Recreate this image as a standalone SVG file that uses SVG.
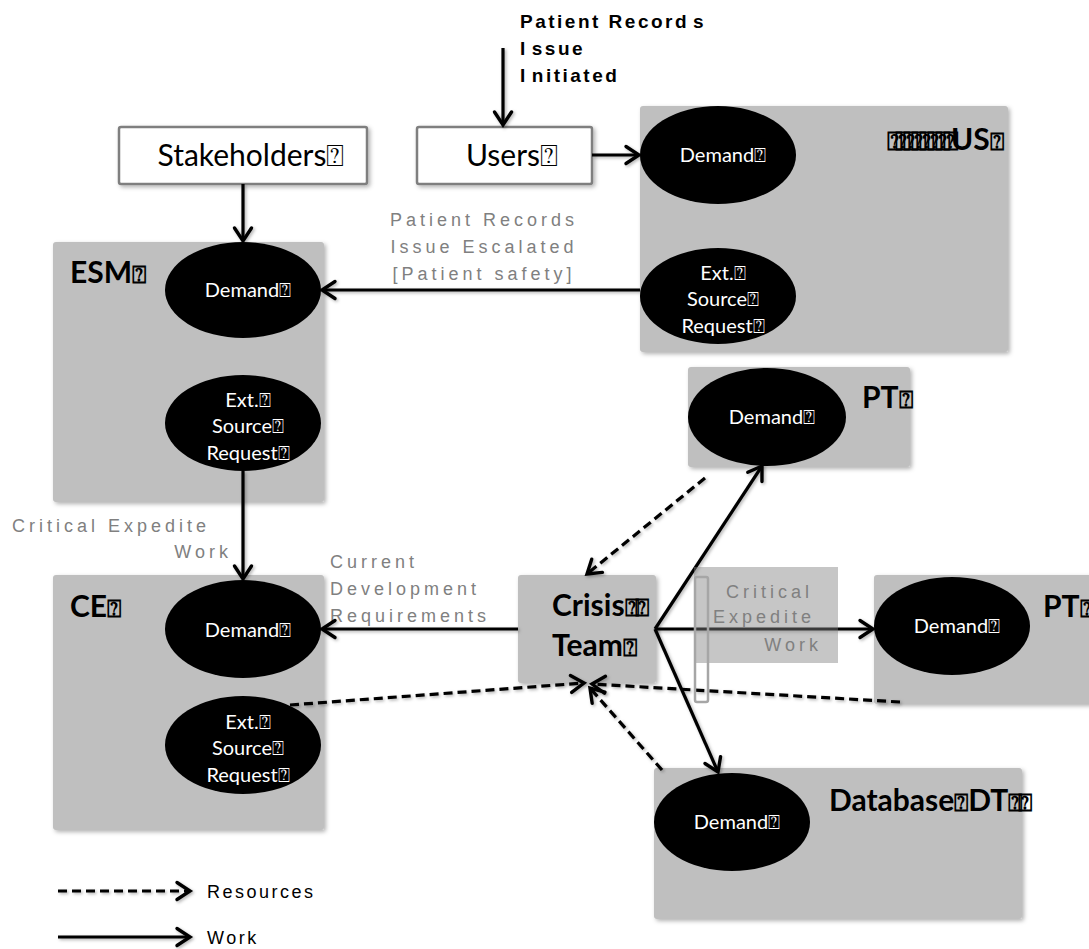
<svg xmlns="http://www.w3.org/2000/svg" width="1089" height="949" viewBox="0 0 1089 949">
  <defs>
    <style>
      .area { fill: #bfbfbf; filter: url(#shadow); }
      .plain { fill: #ffffff; stroke: #7f7f7f; stroke-width: 2.5; filter: url(#shadow); }
      .oval { fill: #000000; }
      .otext { font-family: Lato, "DejaVu Sans", sans-serif; font-size: 20px; fill: #ffffff; text-anchor: middle; }
      .title { font-family: Lato, "DejaVu Sans", sans-serif; font-size: 30px; font-weight: bold; fill: #000000; }
      .boxtext { font-family: Lato, "DejaVu Sans", sans-serif; font-size: 30px; fill: #000000; text-anchor: middle; }
      .note { font-family: "Liberation Sans", Arial, sans-serif; font-size: 18px; fill: #808080; letter-spacing: 4px; }
      .head { font-family: "Liberation Sans", Arial, sans-serif; font-size: 19px; font-weight: bold; fill: #000000; letter-spacing: 2.5px; }
      .legend { font-family: "Liberation Sans", Arial, sans-serif; font-size: 18px; fill: #000000; letter-spacing: 2.5px; }
      .work { fill: none; stroke: #000000; stroke-width: 3.2; marker-end: url(#chevron); filter: url(#lineshadow); }
      .res { fill: none; stroke: #000000; stroke-width: 3.2; stroke-dasharray: 9 5; marker-end: url(#chevron); filter: url(#lineshadow); }
      .sq { font-size: 0.8em; }
    </style>
    <marker id="chevron" markerUnits="userSpaceOnUse" markerWidth="20" markerHeight="22" viewBox="0 0 20 22" refX="16" refY="11" orient="auto">
      <path d="M3,2.5 L16,11 L3,19.5" fill="none" stroke="#000000" stroke-width="3.4" stroke-linecap="round" stroke-linejoin="miter"/>
    </marker>
    <filter id="shadow" x="-10%" y="-10%" width="125%" height="125%">
      <feDropShadow dx="2" dy="2" stdDeviation="2" flood-color="#000000" flood-opacity="0.3"/>
    </filter>
    <!-- user-space region so straight horizontal/vertical lines still render -->
    <filter id="lineshadow" filterUnits="userSpaceOnUse" x="0" y="0" width="1089" height="949">
      <feDropShadow dx="1.5" dy="1.5" stdDeviation="1.5" flood-color="#000000" flood-opacity="0.3"/>
    </filter>
  </defs>

  <rect width="1089" height="949" fill="#ffffff"/>

  <!-- heading above the users box -->
  <g id="initiated">
    <text class="head" x="520" y="28">Patient Record<tspan dx="4">s</tspan></text>
    <text class="head" x="520" y="55">I<tspan dx="4">ssue</tspan></text>
    <text class="head" x="520" y="82">I<tspan dx="4">nitiated</tspan></text>
  </g>

  <g id="stakeholders">
    <rect class="plain" x="119" y="127" width="248" height="57" rx="2"/>
    <text class="boxtext" x="251" y="166">Stakeholders⍰</text>
  </g>

  <g id="users">
    <rect class="plain" x="417" y="127" width="175" height="57" rx="2"/>
    <text class="boxtext" x="512" y="166">Users⍰</text>
  </g>

  <g id="us">
    <rect class="area" x="640" y="106" width="368" height="246" rx="3"/>
    <text class="title" x="887" y="150"><tspan font-size="26" letter-spacing="-8">⍰⍰⍰⍰⍰⍰⍰⍰</tspan>US<tspan class="sq">⍰</tspan></text>
    <ellipse class="oval" cx="718" cy="155" rx="78" ry="49"/>
    <text class="otext" x="723" y="162">Demand⍰</text>
    <ellipse class="oval" cx="718" cy="296" rx="78" ry="48"/>
    <text class="otext" x="723" y="280">Ext.⍰</text>
    <text class="otext" x="723" y="306">Source⍰</text>
    <text class="otext" x="723" y="333">Request⍰</text>
  </g>

  <g id="esm">
    <rect class="area" x="53" y="242" width="271" height="260" rx="3"/>
    <text class="title" x="70" y="283">ESM<tspan class="sq">⍰</tspan></text>
    <ellipse class="oval" cx="243" cy="290" rx="78" ry="48"/>
    <text class="otext" x="248" y="297">Demand⍰</text>
    <ellipse class="oval" cx="243" cy="423" rx="78" ry="48"/>
    <text class="otext" x="248" y="407">Ext.⍰</text>
    <text class="otext" x="248" y="433">Source⍰</text>
    <text class="otext" x="248" y="460">Request⍰</text>
  </g>

  <g id="ce">
    <rect class="area" x="53" y="575" width="271" height="255" rx="3"/>
    <text class="title" x="70" y="617">CE<tspan class="sq">⍰</tspan></text>
    <ellipse class="oval" cx="243" cy="629" rx="78" ry="49"/>
    <text class="otext" x="248" y="637">Demand⍰</text>
    <ellipse class="oval" cx="243" cy="745" rx="78" ry="49"/>
    <text class="otext" x="248" y="729">Ext.⍰</text>
    <text class="otext" x="248" y="755">Source⍰</text>
    <text class="otext" x="248" y="782">Request⍰</text>
  </g>

  <g id="crisis-team">
    <rect class="area" x="518" y="575" width="138" height="108" rx="3"/>
    <text class="title" x="552" y="616">Crisis<tspan class="sq" letter-spacing="-4">⍰⍰</tspan></text>
    <text class="title" x="552" y="656">Team<tspan class="sq">⍰</tspan></text>
  </g>

  <g id="pt-upper">
    <rect class="area" x="688" y="367" width="222" height="100" rx="3"/>
    <text class="title" x="862" y="408">PT<tspan class="sq">⍰</tspan></text>
    <ellipse class="oval" cx="767" cy="417" rx="79" ry="49"/>
    <text class="otext" x="772" y="424">Demand⍰</text>
  </g>

  <g id="pt-right">
    <rect class="area" x="874" y="575" width="220" height="129" rx="3"/>
    <text class="title" x="1043" y="617">PT<tspan class="sq">⍰</tspan></text>
    <ellipse class="oval" cx="952" cy="626" rx="78" ry="49"/>
    <text class="otext" x="957" y="633">Demand⍰</text>
  </g>

  <g id="database">
    <rect class="area" x="654" y="768" width="368" height="151" rx="3"/>
    <text class="title" x="829" y="811">Database<tspan class="sq">⍰</tspan>DT<tspan class="sq" letter-spacing="-4">⍰⍰</tspan></text>
    <ellipse class="oval" cx="732" cy="822" rx="78" ry="49"/>
    <text class="otext" x="737" y="829">Demand⍰</text>
  </g>

  <!-- labels that sit beside the flows -->
  <g id="escalated-label">
    <text class="note" x="484" y="226" text-anchor="middle">Patient Records</text>
    <text class="note" x="484" y="253" text-anchor="middle">Issue Escalated</text>
    <text class="note" x="484" y="280" text-anchor="middle">[Patient safety]</text>
  </g>
  <g id="expedite-label">
    <text class="note" x="12" y="532">Critical Expedite</text>
    <text class="note" x="232" y="558" text-anchor="end">Work</text>
  </g>
  <g id="requirements-label">
    <text class="note" x="330" y="568">Current</text>
    <text class="note" x="330" y="595">Development</text>
    <text class="note" x="330" y="622">Requirements</text>
  </g>

  <g id="connectors">
    <!-- work flows -->
    <line class="work" x1="503" y1="48" x2="503" y2="125"/>
    <line class="work" x1="592" y1="155" x2="639" y2="155"/>
    <line class="work" x1="243" y1="184" x2="243" y2="241"/>
    <line class="work" x1="640" y1="290" x2="322" y2="290"/>
    <line class="work" x1="243" y1="471" x2="243" y2="579"/>
    <line class="work" x1="518" y1="629" x2="322" y2="629"/>
    <line class="work" x1="655" y1="629" x2="762" y2="466"/>
    <line class="work" x1="655" y1="629" x2="873" y2="629"/>
    <line class="work" x1="655" y1="629" x2="718" y2="772"/>
    <!-- resource flows -->
    <line class="res" x1="705" y1="478" x2="587" y2="574"/>
    <line class="res" x1="290" y1="705" x2="584" y2="683"/>
    <line class="res" x1="900" y1="702" x2="592" y2="684"/>
    <line class="res" x1="662" y1="770" x2="590" y2="688"/>
  </g>

  <!-- translucent label box over the crisis team flows -->
  <g id="expedite-box">
    <rect x="694" y="567" width="144" height="96" fill="#808080" fill-opacity="0.45"/>
    <rect x="695" y="577" width="13" height="125" rx="2" fill="none" stroke="#a6a6a6" stroke-width="2.5"/>
    <text class="note" x="726" y="598">Critical</text>
    <text class="note" x="713" y="623">Expedite</text>
    <text class="note" x="822" y="651" text-anchor="end">Work</text>
  </g>

  <g id="legend">
    <line class="res" x1="58" y1="891" x2="190" y2="891"/>
    <text class="legend" x="207" y="898">Resources</text>
    <line class="work" x1="58" y1="937" x2="190" y2="937"/>
    <text class="legend" x="207" y="944">Work</text>
  </g>
</svg>
